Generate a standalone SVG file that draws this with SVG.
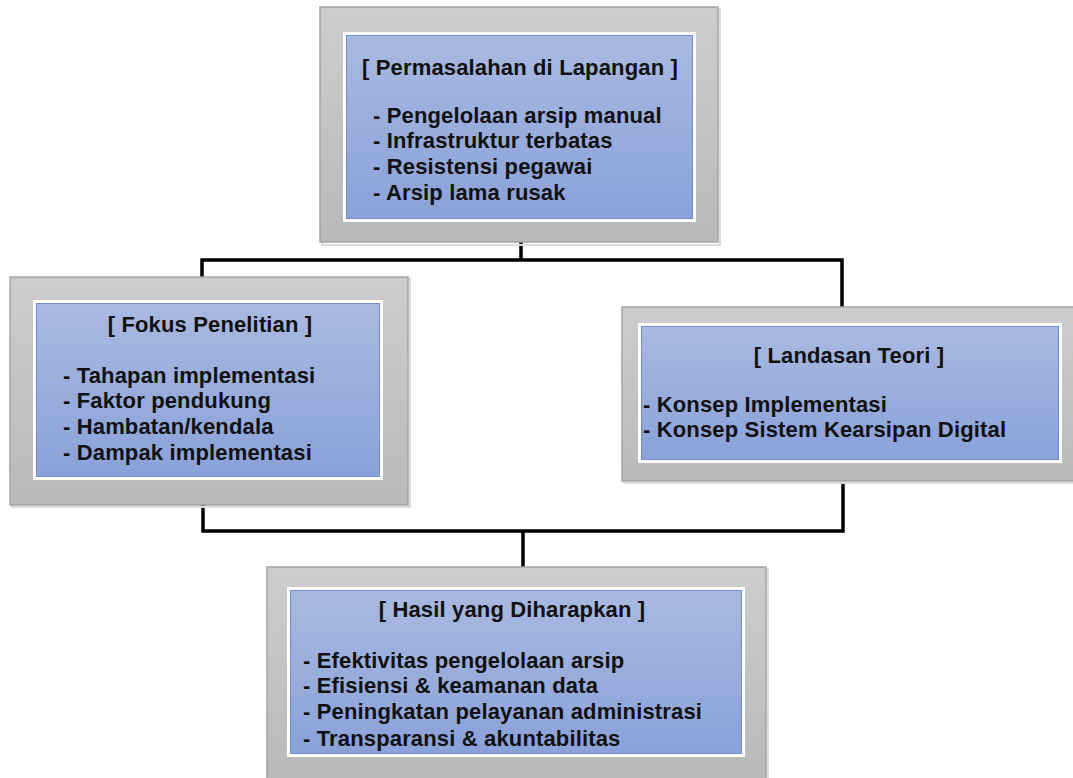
<svg xmlns="http://www.w3.org/2000/svg" width="1073" height="778" viewBox="0 0 1073 778">
  <defs>
    <linearGradient id="frameGrad" x1="0" y1="0" x2="0" y2="1">
      <stop offset="0" stop-color="#cdcdcd"/>
      <stop offset="1" stop-color="#b9b9b9"/>
    </linearGradient>
    <linearGradient id="panelGrad" x1="0" y1="0" x2="0" y2="1">
      <stop offset="0" stop-color="#a9b9e0"/>
      <stop offset="1" stop-color="#8aa1d9"/>
    </linearGradient>
  </defs>
  <style>
    .shadow { fill: none; stroke: #dcdcdc; stroke-width: 2; }
    .frame { fill: url(#frameGrad); stroke: #a4a4a4; stroke-width: 1.5; }
    .mat { fill: none; stroke: #ffffff; stroke-width: 3; }
    .panel { fill: url(#panelGrad); stroke: #6f8dcc; stroke-width: 1; }
    .conn { fill: none; stroke: #000000; stroke-width: 3.5; stroke-linejoin: miter; }
    text { font-family: "Liberation Sans", Arial, sans-serif; font-weight: bold; font-size: 22px; fill: #111111; letter-spacing: 0.15px; }
    .title { text-anchor: middle; }
  </style>

  <!-- connectors run behind the boxes -->
  <g id="connectors">
    <path class="conn" d="M521,240 V260"/>
    <path class="conn" d="M202,282 V260 H842 V310"/>
    <path class="conn" d="M203,500 V531 H843 V482"/>
    <path class="conn" d="M523,531 V570"/>
  </g>

  <g id="node-permasalahan">
    <rect class="shadow" x="322" y="9" width="398" height="236"/>
    <rect class="frame" x="320" y="7" width="398" height="235"/>
    <rect class="mat" x="344.5" y="33.5" width="350" height="187"/>
    <rect class="panel" x="346.5" y="35.5" width="346" height="183"/>
    <text class="title" x="520" y="75">[ Permasalahan di Lapangan ]</text>
    <text x="373" y="123">- Pengelolaan arsip manual</text>
    <text x="373" y="148">- Infrastruktur terbatas</text>
    <text x="373" y="174">- Resistensi pegawai</text>
    <text x="373" y="200">- Arsip lama rusak</text>
  </g>

  <g id="node-fokus">
    <rect class="shadow" x="12" y="279" width="398" height="228"/>
    <rect class="frame" x="10" y="277" width="398" height="228"/>
    <rect class="mat" x="34.5" y="301.5" width="347" height="177"/>
    <rect class="panel" x="36.5" y="303.5" width="343" height="173"/>
    <text class="title" x="210" y="332">[ Fokus Penelitian ]</text>
    <text x="63" y="383">- Tahapan implementasi</text>
    <text x="63" y="408">- Faktor pendukung</text>
    <text x="63" y="434">- Hambatan/kendala</text>
    <text x="63" y="460">- Dampak implementasi</text>
  </g>

  <g id="node-landasan">
    <rect class="shadow" x="624" y="309" width="452" height="174"/>
    <rect class="frame" x="622" y="307" width="452" height="174"/>
    <rect class="mat" x="639.5" y="324.5" width="421" height="137"/>
    <rect class="panel" x="641.5" y="326.5" width="417" height="133"/>
    <text class="title" x="849" y="363">[ Landasan Teori ]</text>
    <text x="643" y="412">- Konsep Implementasi</text>
    <text x="643" y="437">- Konsep Sistem Kearsipan Digital</text>
  </g>

  <g id="node-hasil">
    <rect class="shadow" x="269" y="569" width="499" height="215"/>
    <rect class="frame" x="267" y="567" width="499" height="215"/>
    <rect class="mat" x="288.5" y="588.5" width="455" height="167"/>
    <rect class="panel" x="290.5" y="590.5" width="451" height="163"/>
    <text class="title" x="512" y="617">[ Hasil yang Diharapkan ]</text>
    <text x="303" y="668">- Efektivitas pengelolaan arsip</text>
    <text x="303" y="693">- Efisiensi &amp; keamanan data</text>
    <text x="303" y="719">- Peningkatan pelayanan administrasi</text>
    <text x="303" y="746">- Transparansi &amp; akuntabilitas</text>
  </g>
</svg>
